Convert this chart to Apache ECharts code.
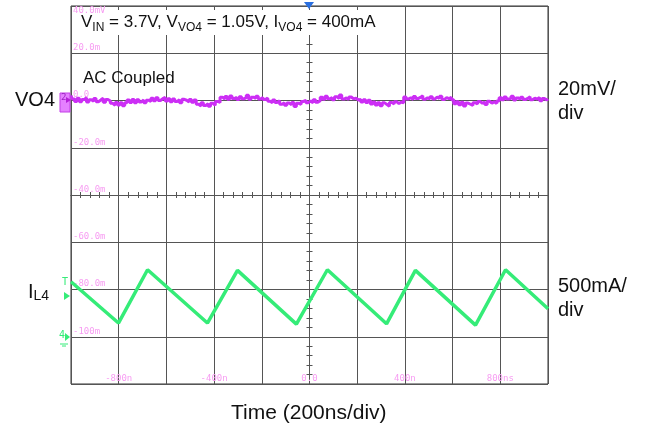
<!DOCTYPE html>
<html>
<head>
<meta charset="utf-8">
<script src="https://cdn.jsdelivr.net/npm/echarts@6/dist/echarts.min.js"></script>
<style>
html, body { margin: 0; padding: 0; background: #fff; }
#chart { width: 649px; height: 432px; }
</style>
</head>
<body>
<div id="chart"></div>
<script>
// time axis labels (200ns/div)
const timeTicks = { '-800': '-800n', '-400': '-400n', '0': '0.0', '400': '400n', '800': '800ns' }
// VO4 channel scale labels, mV (20mV/div)
const vo4Ticks = { '20': '20.0m', '0': '0.0', '-20': '-20.0m', '-40': '-40.0m', '-60': '-60.0m', '-80': '-80.0m', '-100': '-100m' }

// VO4 ripple (AC coupled), mV, one sample every 10ns starting at -1000ns
const vo4Start = -1000
const vo4Step = 10
const vo4Mv = [
  2.1, 0.6, -0.4, 0.9, -0.5, 0.4, 1.2, -0.6, 0.3, -0.3,
  0.8, -0.5, 0.2, 1.0, -0.7, 0.4, -0.2, -1.2, -2.0, -0.8,
  -1.9, -1.0, -2.2, -0.9, 0.2, -0.8, 0.4, -0.9, 0.3, -0.6,
  0.2, -1.0, 0.1, -0.4, 0.9, -0.1, 1.2, 0.0, 0.8, 1.3,
  -0.2, 0.7, -0.5, 0.6, -0.4, 0.3, -0.9, 0.5, 0.1, -0.6,
  0.4, -0.7, 0.2, -1.6, -2.3, -1.0, -2.1, -1.3, -2.4, -1.2,
  -2.0, -0.4, -0.8, 1.4, 0.6, 1.7, 0.5, 1.9, 0.8, 1.3,
  0.4, 1.6, 0.7, 1.2, 2.2, 0.5, 1.4, 0.9, 1.8, 0.6,
  1.3, 0.4, 1.1, -0.3, -1.0, 0.2, -0.8, -0.1, -1.6, -0.9,
  -2.0, -1.1, -1.8, -0.8, -2.5, -1.2, -1.6, -0.4, 0.1, -0.9,
  -0.2, -1.0, 0.3, -0.7, -0.1, 1.4, 0.5, 1.8, 0.7, 1.2,
  0.3, 1.6, 0.8, 2.3, 0.6, 1.1, 0.4, 1.5, 0.7, 1.0,
  0.2, 0.5, -0.6, 0.3, -0.8, 0.1, -1.5, -0.6, -1.9, -0.9,
  -2.2, -1.0, -1.7, -2.4, -0.8, -1.5, -0.5, -1.3, -0.7, -1.0,
  1.5, 0.6, 1.2, 0.4, 1.7, 0.8, 1.3, 2.0, 0.5, 1.1,
  0.7, 1.6, 0.6, 1.4, 0.9, 1.8, 0.4, 1.2, 0.8, 1.3,
  0.3, -1.4, -0.5, -1.8, -0.7, -2.3, -1.1, -1.6, -2.1, -0.9,
  -1.5, -0.4, -1.2, -0.6, -1.7, -0.3, -1.1, -0.5, -1.3, -0.2,
  1.2, 0.3, 1.5, 0.6, 0.9, 1.8, 0.2, 1.1, 0.5, 1.4,
  0.4, 0.9, 1.6, 0.3, 1.0, 0.6, 1.3, -0.1, 0.8, 0.2,
  0.7
]

// inductor current IL4: corner points of the triangle ripple (ns, mA)
const ilTime = [-1000, -801, -679, -428, -302, -55, 75, 323, 444, 696, 822, 1000]
const ilMa = [582, 145, 709, 145, 702, 134, 709, 137, 702, 123, 709, 296]

const chart = echarts.init(document.getElementById('chart'))

const gridColor = '#555'
const pink = '#f79cf2'
const labelFont = 'Liberation Sans, Arial, sans-serif'

const vo4Data = vo4Mv.map((v, i) => [vo4Start + i * vo4Step, v])
const ilData = ilTime.map((t, i) => [t, ilMa[i]])

// centre cross ticks (axes on zero)
const centreX = (position) => ({
  type: 'value', min: -1000, max: 1000, interval: 40, position,
  axisLine: { show: true, onZero: true, onZeroAxisIndex: 2, lineStyle: { color: gridColor } },
  axisTick: { show: true, length: 3, lineStyle: { color: gridColor } },
  axisLabel: { show: false }, splitLine: { show: false }
})
const centreY = (position) => ({
  type: 'value', min: -4, max: 4, interval: 0.2, position,
  axisLine: { show: true, onZero: true, onZeroAxisIndex: 0, lineStyle: { color: gridColor } },
  axisTick: { show: true, length: 3, lineStyle: { color: gridColor } },
  axisLabel: { show: false }, splitLine: { show: false }
})

const option = {
  backgroundColor: '#fff',
  animation: false,
  grid: {
    left: 71, top: 6, width: 477, height: 378,
    show: true, borderColor: '#333', borderWidth: 1, backgroundColor: '#fff'
  },
  xAxis: [
    {
      type: 'value', min: -1000, max: 1000, interval: 200, position: 'bottom',
      axisLine: { show: false, onZero: false },
      axisTick: { show: false },
      axisLabel: {
        inside: true, margin: 1, color: pink, fontSize: 9,
        fontFamily: 'DejaVu Sans Mono, monospace',
        formatter: v => timeTicks[String(v)] || ''
      },
      splitLine: { show: true, lineStyle: { color: gridColor, width: 1 } }
    },
    centreX('bottom'),
    centreX('top')
  ],
  yAxis: [
    {
      type: 'value', min: -120, max: 40, interval: 20, position: 'left',
      axisLine: { show: false, onZero: false },
      axisTick: { show: false },
      axisLabel: {
        inside: true, margin: 2, color: pink, fontSize: 9,
        fontFamily: 'DejaVu Sans Mono, monospace',
        verticalAlign: 'bottom', lineHeight: 11,
        formatter: v => vo4Ticks[String(v)] || ''
      },
      splitLine: { show: true, lineStyle: { color: gridColor, width: 1 } }
    },
    // IL4 channel: 500mA/div, ground at the -100m line
    { type: 'value', min: -500, max: 3500, position: 'right', show: false, axisLine: { onZero: false } },
    centreY('left'),
    centreY('right')
  ],
  series: [
    {
      name: 'VO4', type: 'line', xAxisIndex: 0, yAxisIndex: 0,
      data: vo4Data, step: 'middle', showSymbol: false, z: 5,
      lineStyle: { color: '#cc2ef5', width: 3 }
    },
    {
      name: 'IL4', type: 'line', xAxisIndex: 0, yAxisIndex: 1,
      data: ilData, showSymbol: false, z: 5,
      lineStyle: { color: '#35ec78', width: 3.5 }
    }
  ],
  graphic: [
    {
      type: 'text', left: 77, top: 10, z: 10,
      style: {
        text: '{m|V}{s|IN}{m| = 3.7V, V}{s|VO4}{m| = 1.05V, I}{s|VO4}{m| = 400mA}',
        backgroundColor: '#fff', padding: [1, 4, 1, 4],
        rich: {
          m: { fontSize: 17, fontFamily: labelFont, fill: '#111', lineHeight: 23 },
          s: { fontSize: 12, fontFamily: labelFont, fill: '#111', lineHeight: 12, verticalAlign: 'bottom' }
        }
      }
    },
    { type: 'text', left: 73, top: 6, z: 10, style: { text: '40.0mV', fill: pink, font: '9px DejaVu Sans Mono' } },
    { type: 'text', left: 83, top: 70, z: 10, style: { text: 'AC Coupled', fill: '#111', font: '17px Liberation Sans' } },
    { type: 'text', right: 594, top: 90, z: 10, style: { text: 'VO4', fill: '#111', font: '20px Liberation Sans' } },
    {
      type: 'text', left: 28, top: 282, z: 10,
      style: {
        text: '{m|I}{s|L4}',
        rich: {
          m: { fontSize: 20, fontFamily: labelFont, fill: '#111', lineHeight: 23 },
          s: { fontSize: 14, fontFamily: labelFont, fill: '#111', lineHeight: 14, verticalAlign: 'bottom' }
        }
      }
    },
    { type: 'text', left: 558, top: 77, z: 10, style: { text: '20mV/\ndiv', fill: '#111', font: '20px Liberation Sans', lineHeight: 24 } },
    { type: 'text', left: 558, top: 274, z: 10, style: { text: '500mA/\ndiv', fill: '#111', font: '20px Liberation Sans', lineHeight: 24 } },
    { type: 'text', left: 231, top: 403, z: 10, style: { text: 'Time (200ns/div)', fill: '#111', font: '21px Liberation Sans' } },
    // scope markers
    { type: 'polygon', z: 10, shape: { points: [[304, 2], [314, 2], [309, 9]] }, style: { fill: '#2a6fe0' } },
    { type: 'rect', z: 10, shape: { x: 60, y: 93, width: 10, height: 19 }, style: { fill: '#e580ff', stroke: '#c23ee6' } },
    { type: 'text', left: 61, top: 93, z: 11, style: { text: '2', fill: '#9a1fc0', font: '9px DejaVu Sans Mono' } },
    { type: 'polygon', z: 11, shape: { points: [[66, 97], [71, 100], [66, 103]] }, style: { fill: '#b51fd8' } },
    { type: 'text', left: 62, top: 277, z: 10, style: { text: 'T', fill: '#35ec78', font: '10px DejaVu Sans Mono' } },
    { type: 'polygon', z: 10, shape: { points: [[64, 292], [70, 296], [64, 300]] }, style: { fill: '#35ec78' } },
    { type: 'text', left: 59, top: 330, z: 10, style: { text: '4', fill: '#35ec78', font: '10px DejaVu Sans Mono' } },
    { type: 'polygon', z: 10, shape: { points: [[65, 333], [70, 337], [65, 341]] }, style: { fill: '#35ec78' } },
    { type: 'polyline', z: 10, shape: { points: [[60, 344], [68, 344]] }, style: { stroke: '#35ec78', lineWidth: 1 } },
    { type: 'polyline', z: 10, shape: { points: [[62, 346], [66, 346]] }, style: { stroke: '#35ec78', lineWidth: 1 } }
  ]
}

chart.setOption(option)
</script>
</body>
</html>
